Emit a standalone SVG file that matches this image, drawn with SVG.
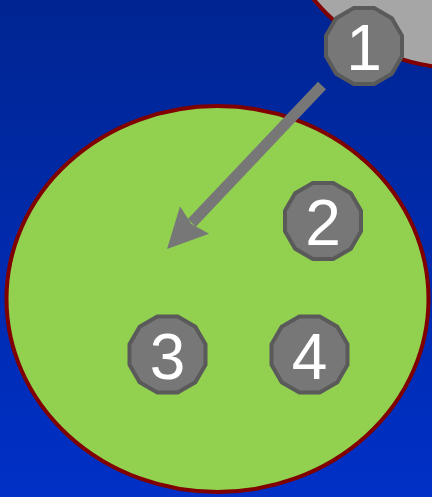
<svg xmlns="http://www.w3.org/2000/svg" width="432" height="497" viewBox="0 0 432 497">
<defs>
<linearGradient id="bg" x1="0" y1="0" x2="0" y2="1">
<stop offset="0" stop-color="#002592"/>
<stop offset="1" stop-color="#0030c6"/>
</linearGradient>
<marker id="ah" markerUnits="userSpaceOnUse" markerWidth="44" markerHeight="44" viewBox="0 -22 44 44" refX="4" refY="0" orient="auto">
<path d="M0,-20 L40,0 L0,20 L5,0 Z" fill="#777777"/>
</marker>
<polygon id="dodec" points="10.18,-38 27.82,-27.82 38,-10.18 38,10.18 27.82,27.82 10.18,38 -10.18,38 -27.82,27.82 -38,10.18 -38,-10.18 -27.82,-27.82 -10.18,-38"/>
</defs>
<style>
.node use{fill:#777777;stroke:#5a5a5a;stroke-width:4}
.node text{font-family:"Liberation Sans",Arial,sans-serif;font-size:64px;fill:#ffffff;text-anchor:middle}
.region{stroke:#800000;stroke-width:4}
</style>
<rect width="432" height="497" fill="url(#bg)"/>
<g id="regions">
<ellipse id="region-gray" class="region" cx="458" cy="-118" rx="186" ry="186" fill="#a6a6a6"/>
<ellipse id="region-green" class="region" cx="217.5" cy="299" rx="211" ry="193" fill="#92d050"/>
</g>
<g id="connectors">
<line x1="322" y1="85.5" x2="191.8" y2="222.9" stroke="#777777" stroke-width="11" marker-end="url(#ah)"/>
</g>
<g id="node1" class="node"><use href="#dodec" x="364" y="46"/><text x="364" y="70">1</text></g>
<g id="node2" class="node"><use href="#dodec" x="323" y="221"/><text x="323" y="245">2</text></g>
<g id="node3" class="node"><use href="#dodec" x="167.5" y="354.5"/><text x="167.5" y="378.5">3</text></g>
<g id="node4" class="node"><use href="#dodec" x="309.5" y="354.5"/><text x="309.5" y="378.5">4</text></g>
</svg>
